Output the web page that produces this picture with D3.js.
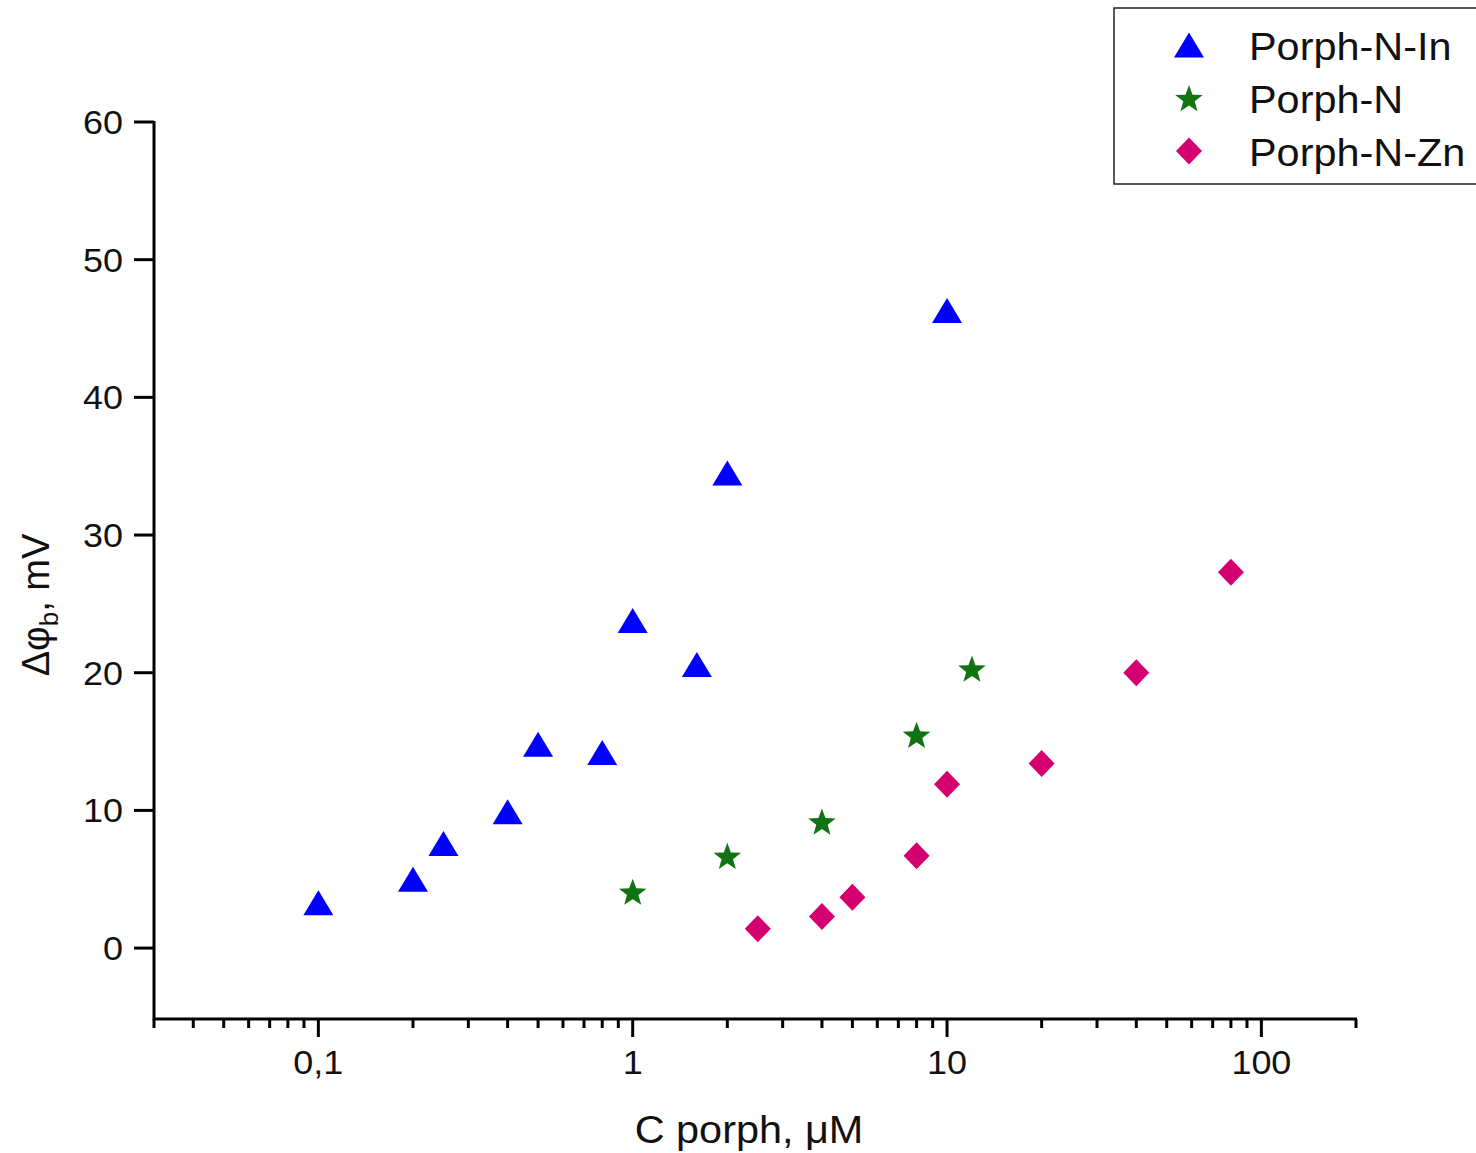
<!DOCTYPE html>
<html>
<head>
<meta charset="utf-8">
<script src="https://cdn.jsdelivr.net/npm/d3@7"></script>
<style>
  html, body { margin: 0; padding: 0; background: #fff; }
  svg { display: block; font-family: "Liberation Sans", Arial, sans-serif; }
</style>
</head>
<body>
<svg id="chart" width="1476" height="1153"></svg>
<script>
// data (C porph in µM, Δφb in mV)
const inX  = [0.1, 0.2, 0.25, 0.4, 0.5, 0.8, 1, 1.6, 2, 10];
const inY  = [3.3, 5.0, 7.6, 9.9, 14.8, 14.2, 23.8, 20.6, 34.5, 46.3];
const nX   = [1, 2, 4, 8, 12];
const nY   = [4.1, 6.7, 9.2, 15.5, 20.3];
const znX  = [2.5, 4, 5, 8, 10, 20, 40, 80];
const znY  = [1.4, 2.3, 3.7, 6.7, 11.9, 13.4, 20.0, 27.3];

const xTickVals   = [0.1, 1, 10, 100];
const xTickLabels = ['0,1', '1', '10', '100'];
const yTickVals   = [0, 10, 20, 30, 40, 50, 60];

const series = [
  { name: 'Porph-N-In', xs: inX, ys: inY, shape: 'triangle', color: '#0000ff' },
  { name: 'Porph-N',    xs: nX,  ys: nY,  shape: 'star',     color: '#117311' },
  { name: 'Porph-N-Zn', xs: znX, ys: znY, shape: 'diamond',  color: '#d5006f' },
];

const svg = d3.select('#chart');
const x = d3.scaleLog().domain([0.03, 200]).range([154, 1356]);
const y = d3.scaleLinear().domain([-5.15, 60]).range([1019, 122]);
const SX = 1.09; // text in the figure is a bit wider than the font

function shapePath(shape) {
  if (shape === 'triangle') return 'M0,-12.5 L15,12.5 L-15,12.5 Z';
  if (shape === 'diamond') return 'M0,-13.5 L13,0 L0,13.5 L-13,0 Z';
  // five-point star
  const pts = [];
  for (let i = 0; i < 10; i++) {
    const r = i % 2 === 0 ? 14.5 : 6;
    const a = -Math.PI / 2 + i * Math.PI / 5;
    pts.push([r * Math.cos(a), r * Math.sin(a) + 1.5]);
  }
  return 'M' + pts.map(p => p.join(',')).join('L') + 'Z';
}

function place(tx, ty) {
  return `translate(${tx},${ty}) scale(${SX},1)`;
}

// axes
const minor = [];
[0.01, 0.1, 1, 10, 100].forEach(d => {
  for (let k = 2; k <= 9; k++) {
    const v = d * k;
    if (v >= 0.03 && v <= 200) minor.push(v);
  }
});

const xAxis = svg.append('g').attr('transform', 'translate(0,1019)');
xAxis.append('line').attr('x1', 153).attr('x2', 1357)
  .attr('stroke', '#000').attr('stroke-width', 3);
xAxis.selectAll('.minor').data(minor).join('line')
  .attr('x1', d => x(d)).attr('x2', d => x(d))
  .attr('y1', 0).attr('y2', 9).attr('stroke', '#000').attr('stroke-width', 3);
xAxis.selectAll('.major').data(xTickVals).join('line')
  .attr('x1', d => x(d)).attr('x2', d => x(d))
  .attr('y1', 0).attr('y2', 18).attr('stroke', '#000').attr('stroke-width', 3);
xAxis.selectAll('text').data(xTickVals).join('text')
  .attr('transform', d => place(x(d), 55))
  .attr('text-anchor', 'middle').attr('font-size', 33).attr('fill', '#111')
  .text((d, i) => xTickLabels[i]);

const yAxis = svg.append('g').attr('transform', 'translate(154,0)');
yAxis.append('line').attr('y1', 121).attr('y2', 1020)
  .attr('stroke', '#000').attr('stroke-width', 3);
yAxis.selectAll('line.tick').data(yTickVals).join('line').attr('class', 'tick')
  .attr('x1', -20).attr('x2', 0)
  .attr('y1', d => y(d)).attr('y2', d => y(d))
  .attr('stroke', '#000').attr('stroke-width', 3);
yAxis.selectAll('text').data(yTickVals).join('text')
  .attr('transform', d => place(-31, y(d) + 12))
  .attr('text-anchor', 'end').attr('font-size', 33).attr('fill', '#111')
  .text(d => d);

// axis titles
svg.append('text').attr('transform', place(749, 1143))
  .attr('text-anchor', 'middle').attr('font-size', 38).attr('fill', '#111')
  .text('C porph, μM');

const yt = svg.append('text')
  .attr('transform', 'translate(49,605) rotate(-90)')
  .attr('text-anchor', 'middle').attr('font-size', 38).attr('fill', '#111');
yt.append('tspan').text('Δφ');
yt.append('tspan').attr('font-size', 26).attr('dy', 9).text('b');
yt.append('tspan').attr('dy', -9).text(', mV');

// points
series.forEach(s => {
  svg.append('g').selectAll('path')
    .data(s.xs.map((v, i) => [v, s.ys[i]]))
    .join('path')
    .attr('d', shapePath(s.shape))
    .attr('transform', d => `translate(${x(d[0])},${y(d[1])})`)
    .attr('fill', s.color);
});

// legend
const lg = svg.append('g');
lg.append('rect').attr('x', 1114).attr('y', 8).attr('width', 380).attr('height', 176)
  .attr('fill', '#fff').attr('stroke', '#222').attr('stroke-width', 1.5);
series.forEach((s, i) => {
  const cy = 45 + i * 53;
  lg.append('path').attr('d', shapePath(s.shape))
    .attr('transform', `translate(1189,${cy})`).attr('fill', s.color);
  lg.append('text').attr('transform', place(1249, cy + 15))
    .attr('font-size', 38).attr('fill', '#111').text(s.name);
});
</script>
</body>
</html>
